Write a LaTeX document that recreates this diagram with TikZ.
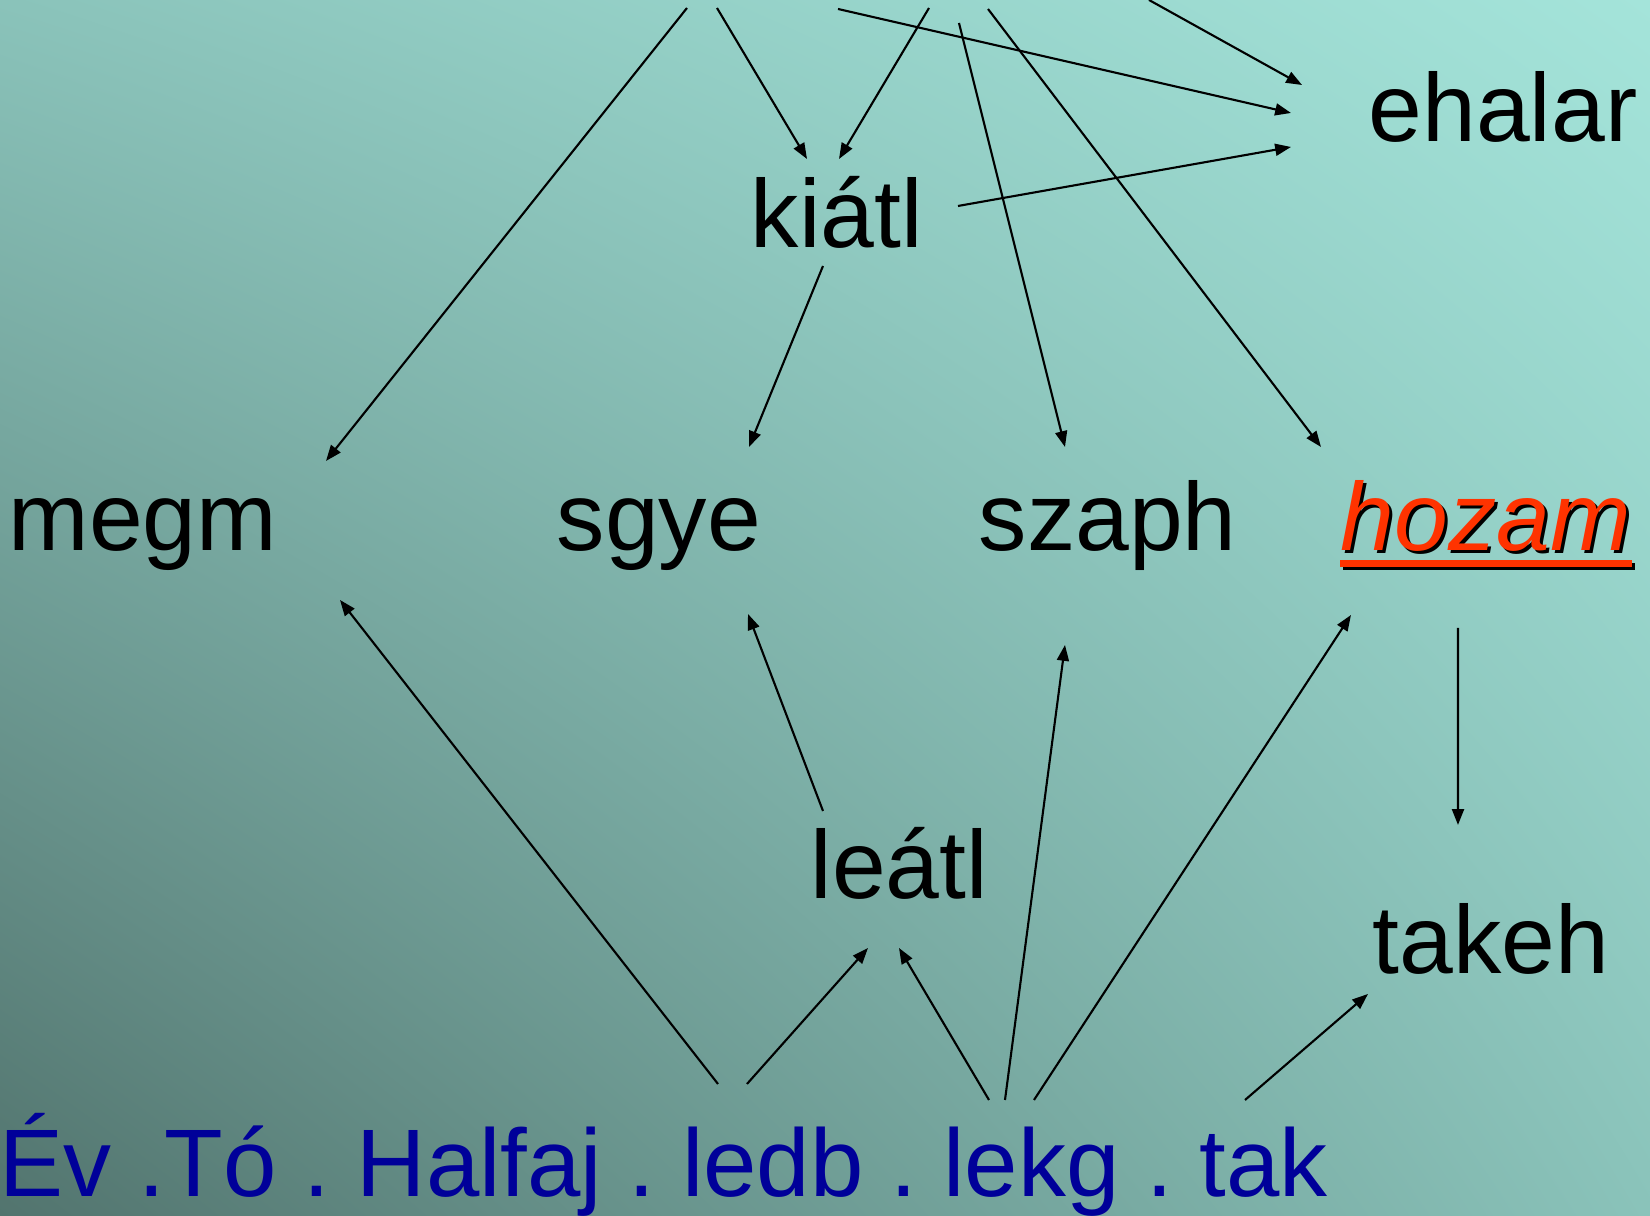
\documentclass[tikz,border=0pt]{standalone}
\usepackage{fontspec}
\setmainfont{Liberation Sans}
\usetikzlibrary{arrows.meta,shadings}

\definecolor{bgdark}{RGB}{82,116,110}
\definecolor{bgmid}{RGB}{138,195,186}
\definecolor{bglight}{RGB}{164,228,218}
\definecolor{hozamred}{RGB}{255,51,0}
\definecolor{varblue}{RGB}{0,0,153}

\begin{document}
\begin{tikzpicture}[
                    lbl/.style={inner sep=0, anchor=base west, font=\fontsize{27.5}{33}\selectfont\frenchspacing},
                    arr/.style={-{Triangle[length=4.5pt,width=3.4pt]}, line width=0.6pt}]
                \useasboundingbox (0,0) rectangle (16.5,12.16);
                \shade[lower left=bgdark, upper right=bglight, upper left=bgmid, lower right=bgmid]
                    (0,0) rectangle (16.5,12.16);

                % labels
                \node[lbl] (ehalar) at (13.68,10.74) {ehalar};
                \node[lbl] (kiatl) at (7.50,9.68) {kiátl};
                \node[lbl] (megm) at (0.08,6.65) {megm};
                \node[lbl] (sgye) at (5.56,6.65) {sgye};
                \node[lbl] (szaph) at (9.78,6.65) {szaph};
                \node[lbl, font=\fontsize{27.5}{33}\selectfont\itshape] (hozams) at (13.43,6.62) {hozam};
                \node[lbl, text=hozamred, font=\fontsize{27.5}{33}\selectfont\itshape] (hozam) at (13.40,6.65) {hozam};
                \node[lbl] (leatl) at (8.10,3.17) {leátl};
                \node[lbl] (takeh) at (13.72,2.42) {takeh};
                \node[lbl, text=varblue, font=\fontsize{27.3}{33}\selectfont\frenchspacing] (bot) at (-0.01,0.19) {Év .Tó . Halfaj . ledb . lekg . tak};

                \draw[line width=2pt] ([shift={(0.03,-0.16)}]hozam.base west) -- ([shift={(0.03,-0.16)}]hozam.base east);
                \draw[line width=2pt, hozamred] ([yshift=-0.13cm]hozam.base west) -- ([yshift=-0.13cm]hozam.base east);

                % free ends at the top
                \coordinate (t1) at (6.87,12.08);
                \coordinate (t2) at (7.17,12.08);
                \coordinate (t3) at (9.29,12.08);
                \coordinate (t4) at (8.38,12.07);
                \coordinate (t5) at (9.59,11.93);
                \coordinate (t6) at (9.88,12.07);
                \coordinate (t7) at (11.49,12.16);

                \draw[arr] (t1) -- ([shift={(3.18,0.90)}]megm.base west);
                \draw[arr] (t2) -- ([shift={(0.57,0.89)}]kiatl.base west);
                \draw[arr] (t3) -- ([shift={(0.89,0.89)}]kiatl.base west);
                \draw[arr] (t4) -- ([shift={(-0.77,0.29)}]ehalar.base west);
                \draw[arr] (t5) -- ([shift={(0.87,1.04)}]szaph.base west);
                \draw[arr] (t6) -- ([shift={(-0.19,1.04)}]hozam.base west);
                \draw[arr] (t7) -- ([shift={(-0.66,0.57)}]ehalar.base west);

                \draw[arr] ([shift={(2.08,0.42)}]kiatl.base west) -- ([shift={(-0.77,-0.05)}]ehalar.base west);
                \draw[arr] ([shift={(0.73,-0.18)}]kiatl.base west) -- ([shift={(1.93,1.04)}]sgye.base west);
                \draw[arr] ([shift={(0.13,0.88)}]leatl.base west) -- ([shift={(1.92,-0.63)}]sgye.base west);
                \draw[arr] ([shift={(1.18,-0.77)}]hozam.base west) -- ([shift={(0.86,1.49)}]takeh.base west);

                \draw[arr] ([shift={(7.19,1.13)}]bot.base west) -- ([shift={(3.32,-0.49)}]megm.base west);
                \draw[arr] ([shift={(7.48,1.13)}]bot.base west) -- ([shift={(0.58,-0.49)}]leatl.base west);
                \draw[arr] ([shift={(9.90,0.97)}]bot.base west) -- ([shift={(0.89,-0.49)}]leatl.base west);
                \draw[arr] ([shift={(10.06,0.97)}]bot.base west) -- ([shift={(0.87,-0.94)}]szaph.base west);
                \draw[arr] ([shift={(10.35,0.97)}]bot.base west) -- ([shift={(0.11,-0.64)}]hozam.base west);
                \draw[arr] ([shift={(12.46,0.97)}]bot.base west) -- ([shift={(-0.04,-0.20)}]takeh.base west);
            \end{tikzpicture}
\end{document}
